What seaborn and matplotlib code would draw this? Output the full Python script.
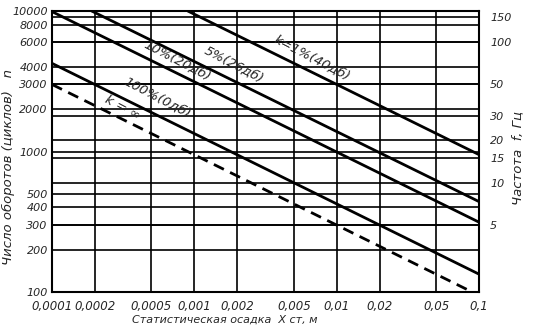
import matplotlib
matplotlib.use("Agg")
import matplotlib.pyplot as plt
import matplotlib.transforms as mtransforms
import seaborn as sns
import pandas as pd
import numpy as np

# Data: endpoints of each straight line (log-log)
k1_x = [0.0009, 0.1];   k1_n = [10000, 950]
k5_x = [0.00019, 0.1];  k5_n = [10000, 440]
k10_x = [0.0001, 0.1];  k10_n = [9900, 314]
k100_x = [0.0001, 0.1]; k100_n = [4240, 134]
kinf_x = [0.0001, 0.0895]; kinf_n = [3000, 100]

line_labels = ["k=1%(40дб)", "5%(26дб)", "10%(20дб)", "100%(0дб)", "k = ∞"]

x_ticks = [0.0001, 0.0002, 0.0005, 0.001, 0.002, 0.005, 0.01, 0.02, 0.05, 0.1]
x_labels = ["0,0001", "0,0002", "0,0005", "0,001", "0,002", "0,005", "0,01", "0,02", "0,05", "0,1"]
n_ticks = [100, 200, 300, 400, 500, 1000, 2000, 3000, 4000, 6000, 8000, 10000]
f_ticks = [5, 10, 15, 20, 30, 50, 100, 150]

series = [("1", k1_x, k1_n), ("5", k5_x, k5_n), ("10", k10_x, k10_n),
          ("100", k100_x, k100_n), ("inf", kinf_x, kinf_n)]
frames = [pd.DataFrame({"x": xs, "n": ns, "k": name}) for name, xs, ns in series]
df = pd.concat(frames, ignore_index=True)

sns.set_style("white")
plt.rcParams['font.family'] = ['DejaVu Sans']
FS = 8

fig = plt.figure(figsize=(5.33, 3.29), dpi=100)
ax = fig.add_axes([52/533, 37/329, 427/533, 281/329])
ax.set_xscale("log")
ax.set_yscale("log")
ax.set_xlim(0.0001, 0.1)
ax.set_ylim(100, 10000)

# grid lines
for xv in x_ticks:
    ax.axvline(xv, color="black", lw=1.2, zorder=1)
for yv in n_ticks:
    ax.axhline(yv, color="black", lw=1.2, zorder=1)
for fv in f_ticks:
    ax.axhline(fv * 60, color="black", lw=1.2, zorder=1)

solid = df[df.k != "inf"]
sns.lineplot(data=solid, x="x", y="n", units="k", estimator=None, color="black",
             lw=2.0, ax=ax, legend=False, zorder=3)
sns.lineplot(data=df[df.k == "inf"], x="x", y="n", estimator=None, color="black",
             lw=2.0, ax=ax, legend=False, zorder=3, linestyle=(0, (4, 2.5)))

ax.set_xticks(x_ticks)
ax.set_xticklabels(x_labels, fontsize=8.5, style="italic")
ax.set_yticks(n_ticks)
ax.set_yticklabels([str(v) for v in n_ticks], fontsize=FS, style="italic")
ax.minorticks_off()
ax.tick_params(axis="y", length=0, pad=3)
ax.tick_params(axis="x", length=0, pad=6)
ax.set_xlabel("Статистическая осадка  X ст, м", fontsize=FS, style="italic", va="center")
ax.xaxis.set_label_coords(0.405, -0.1)
ax.set_ylabel("Число оборотов (циклов)   n", fontsize=9.5, style="italic", va="center")
ax.yaxis.set_label_coords(-0.103, 0.445)
for s in ax.spines.values():
    s.set_color("black")
    s.set_linewidth(1.5)

ax2 = ax.twinx()
ax2.set_yscale("log")
ax2.set_ylim(100/60, 10000/60)
ax2.set_yticks(f_ticks)
ax2.set_yticklabels([str(v) for v in f_ticks], fontsize=FS, style="italic")
ax2.minorticks_off()
ax2.tick_params(length=0, pad=8)
ax2.set_ylabel("Частота  f, Гц", fontsize=9.5, style="italic", va="center")
ax2.yaxis.set_label_coords(1.091, 0.477)
for s in ax2.spines.values():
    s.set_visible(False)

# line labels: placed along each line, shifted perpendicular (above)
label_x = [0.0061, 0.0017, 0.0007, 0.00049, 0.00029]
label_off = [13, 15, 11.5, 16, 10]  # pixels perpendicular
ang = np.deg2rad(26.5)
for (name, xs, ns), txt, lx, off in zip(series, line_labels, label_x, label_off):
    t = (np.log10(lx) - np.log10(xs[0])) / (np.log10(xs[1]) - np.log10(xs[0]))
    ly = 10 ** (np.log10(ns[0]) + t * (np.log10(ns[1]) - np.log10(ns[0])))
    dx = off * np.sin(ang) * 72 / 100
    dy = off * np.cos(ang) * 72 / 100
    tr = mtransforms.offset_copy(ax.transData, fig=fig, x=dx, y=dy, units="points")
    ax.text(lx, ly, txt, fontsize=9.5, style="italic", rotation=-27.5,
            ha="center", va="center", transform=tr, zorder=5, rotation_mode="anchor")

fig.savefig("out.png", dpi=100)
